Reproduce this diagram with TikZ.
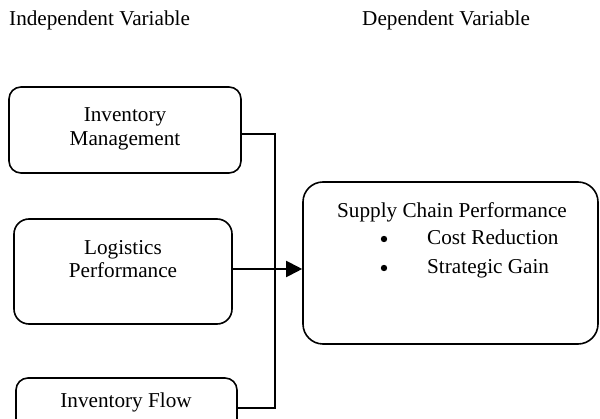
\documentclass[tikz,border=0pt]{standalone}
\usepackage{fontspec}
\setmainfont{Liberation Serif}
\usetikzlibrary{arrows.meta}
\begin{document}
\begin{tikzpicture}[x=1pt,y=-1pt,
  box/.style={draw, line width=1.6pt, inner sep=0pt},
  txt/.style={font=\fontsize{21.2}{23.5}\selectfont, inner sep=0pt},
  conn/.style={line width=1.6pt},
  arr/.style={line width=2pt, -{Triangle[length=16pt,width=16pt]}}]
\useasboundingbox (0,0) rectangle (600,419);
\clip (0,0) rectangle (600,419);
% titles
\node[txt, anchor=base west] (iv) at (9,26) {Independent Variable};
\node[txt, anchor=base west] (dv) at (362,26) {Dependent Variable};
% boxes
\node[box, rounded corners=12pt, minimum width=232pt, minimum height=86pt] (b1) at (125,130) {};
\node[box, rounded corners=15pt, minimum width=218pt, minimum height=105pt] (b2) at (123,271.5) {};
\node[box, rounded corners=12pt, minimum width=221pt, minimum height=84pt] (b3) at (126.5,420) {};
\node[box, rounded corners=20pt, minimum width=295pt, minimum height=162pt] (b4) at (450.5,263) {};
% texts
\node[txt, anchor=base] (t1a) at (125,122) {Inventory};
\node[txt, anchor=base] (t1b) at (125,146) {Management};
\node[txt, anchor=base] (t2a) at (123,255) {Logistics};
\node[txt, anchor=base] (t2b) at (123,278) {Performance};
\node[txt, anchor=base] (t3) at (126,408) {Inventory Flow};
\node[txt, anchor=base] (t4) at (452,218) {Supply Chain Performance};
\node[txt, anchor=base west] (t4a) at (427,245) {Cost Reduction};
\node[txt, anchor=base west] (t4b) at (427,274) {Strategic Gain};
\fill (384,239) circle (3.2pt);
\fill (384,268) circle (3.2pt);
% connectors
\coordinate (top) at (275,134);
\coordinate (bot) at (275,408);
\coordinate (mid) at (275,269);
\draw[conn] (b1.east |- top) -- (top) -- (bot) -- (b3.east |- bot);
\draw[arr] (b2.east |- mid) -- (b4.west |- mid);
\end{tikzpicture}
\end{document}
